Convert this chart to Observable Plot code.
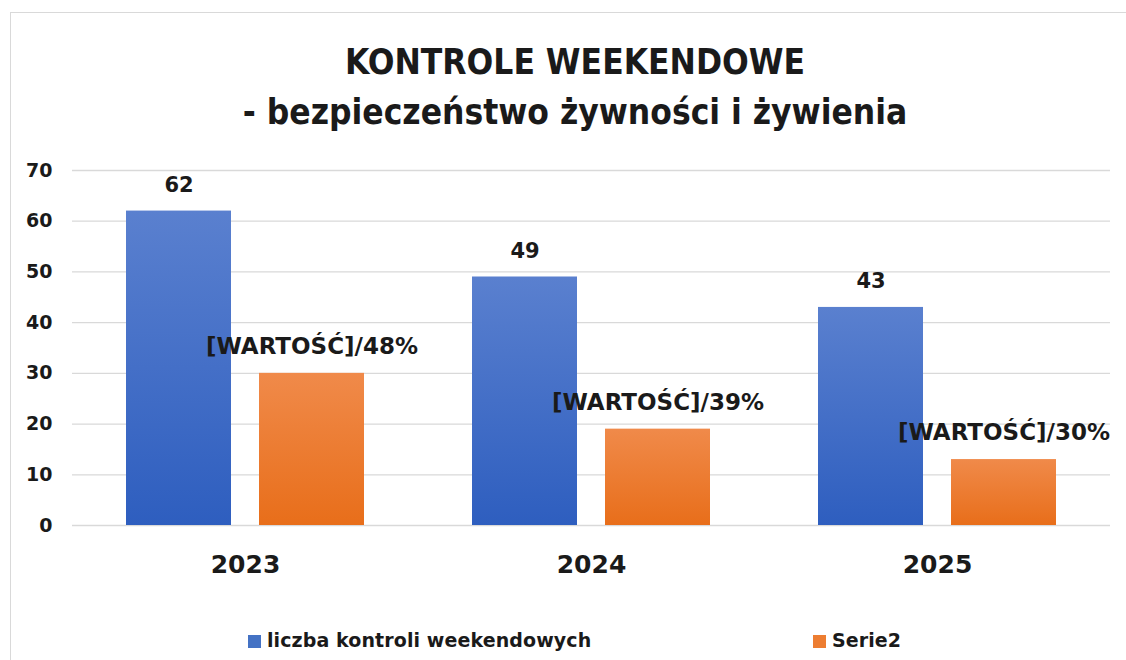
<!DOCTYPE html>
<html>
<head>
<meta charset="utf-8">
<script src="https://cdn.jsdelivr.net/npm/d3@7"></script>
<script src="https://cdn.jsdelivr.net/npm/@observablehq/plot@0.6"></script>
<style>
  html, body { margin: 0; padding: 0; background: #fff; }
  #wrap { position: relative; width: 1126px; height: 660px; overflow: hidden; font-family: "DejaVu Sans", "Liberation Sans", sans-serif; }
  #frame { position: absolute; left: 10px; top: 12px; width: 1200px; height: 700px; border: 1px solid #d9d9d9; box-sizing: border-box; }
  .title { position: absolute; left: 12px; width: 1126px; text-align: center; font-weight: bold; color: #1a1a1a; white-space: nowrap; font-family: "DejaVu Sans Condensed", "DejaVu Sans", sans-serif; }
  #t1 { top: 40px; font-size: 35px; line-height: 44px; }
  #t2 { top: 90px; font-size: 35px; line-height: 44px; }
  #chart { position: absolute; left: 0; top: 150px; }
  .leg { position: absolute; top: 629px; font-size: 19px; font-weight: bold; color: #1a1a1a; line-height: 22px; white-space: nowrap; letter-spacing: 0.1px; }
  .sw { display: inline-block; width: 13px; height: 13px; margin-right: 6px; vertical-align: -1px; }
</style>
</head>
<body>
<div id="wrap">
  <div id="frame"></div>
  <div class="title" id="t1"></div>
  <div class="title" id="t2"></div>
  <div id="chart"></div>
  <div class="leg" id="leg1" style="left:248px"></div>
  <div class="leg" id="leg2" style="left:813px"></div>
</div>
<script>
const titleLines = ["KONTROLE WEEKENDOWE", "- bezpieczeństwo żywności i żywienia"];
const years = ["2023", "2024", "2025"];
const seriesNames = ["liczba kontroli weekendowych", "Serie2"];
const kontrole = [62, 49, 43];
const serie2 = [30, 19, 13];
const serie2Pct = ["48%", "39%", "30%"];
const serie2Prefix = "[WARTOŚĆ]";
const yTicks = [0, 10, 20, 30, 40, 50, 60, 70];

document.getElementById("t1").textContent = titleLines[0];
document.getElementById("t2").textContent = titleLines[1];

const blue = years.map((y, i) => ({year: y, series: seriesNames[0], value: kontrole[i], label: String(kontrole[i])}));
const orange = years.map((y, i) => ({year: y, series: seriesNames[1], value: serie2[i], label: serie2Prefix + "/" + serie2Pct[i]}));

const plot = Plot.plot({
  width: 1126,
  height: 450,
  marginTop: 20,
  marginBottom: 75,
  marginLeft: 72,
  marginRight: 16,
  style: {fontFamily: "'DejaVu Sans', sans-serif", color: "#1a1a1a", background: "transparent"},
  fx: {domain: years, padding: 0, label: null},
  x: {domain: seriesNames, paddingInner: 0.209, paddingOuter: 0.396, axis: null},
  y: {domain: [0, 70], label: null},
  marks: [
    Plot.ruleY(yTicks, {stroke: "#d9d9d9", strokeWidth: 1.3}),
    Plot.axisY({ticks: yTicks, tickSize: 0, tickPadding: 20, fontSize: 19, fontWeight: "bold", label: null}),
    Plot.axisFx({anchor: "bottom", tickSize: 0, tickPadding: 30, fontSize: 25, fontWeight: "bold", label: null}),
    Plot.barY(blue, {fx: "year", x: "series", y: "value", fill: "url(#gradBlue)"}),
    Plot.barY(orange, {fx: "year", x: "series", y: "value", fill: "url(#gradOrange)"}),
    Plot.text(blue, {fx: "year", x: "series", y: "value", text: "label", dy: -26, fontSize: 21, fontWeight: "bold", fill: "#1a1a1a"}),
    Plot.text(orange, {fx: "year", x: "series", y: "value", text: "label", dy: -27, fontSize: 23, fontWeight: "bold", fill: "#1a1a1a", letterSpacing: "0.2px"})
  ]
});

const svg = d3.select(plot);
const defs = svg.insert("defs", ":first-child");
const gb = defs.append("linearGradient").attr("id", "gradBlue").attr("x1", 0).attr("y1", 0).attr("x2", 0).attr("y2", 1);
gb.append("stop").attr("offset", "0%").attr("stop-color", "#5a80cf");
gb.append("stop").attr("offset", "100%").attr("stop-color", "#2e5ebf");
const go = defs.append("linearGradient").attr("id", "gradOrange").attr("x1", 0).attr("y1", 0).attr("x2", 0).attr("y2", 1);
go.append("stop").attr("offset", "0%").attr("stop-color", "#f08a4a");
go.append("stop").attr("offset", "100%").attr("stop-color", "#e86e1a");

document.getElementById("chart").appendChild(plot);

document.getElementById("leg1").innerHTML = '<span class="sw" style="background:#4472c4"></span>';
document.getElementById("leg1").appendChild(document.createTextNode(seriesNames[0]));
document.getElementById("leg2").innerHTML = '<span class="sw" style="background:#ed7d31"></span>';
document.getElementById("leg2").appendChild(document.createTextNode(seriesNames[1]));
</script>
</body>
</html>
